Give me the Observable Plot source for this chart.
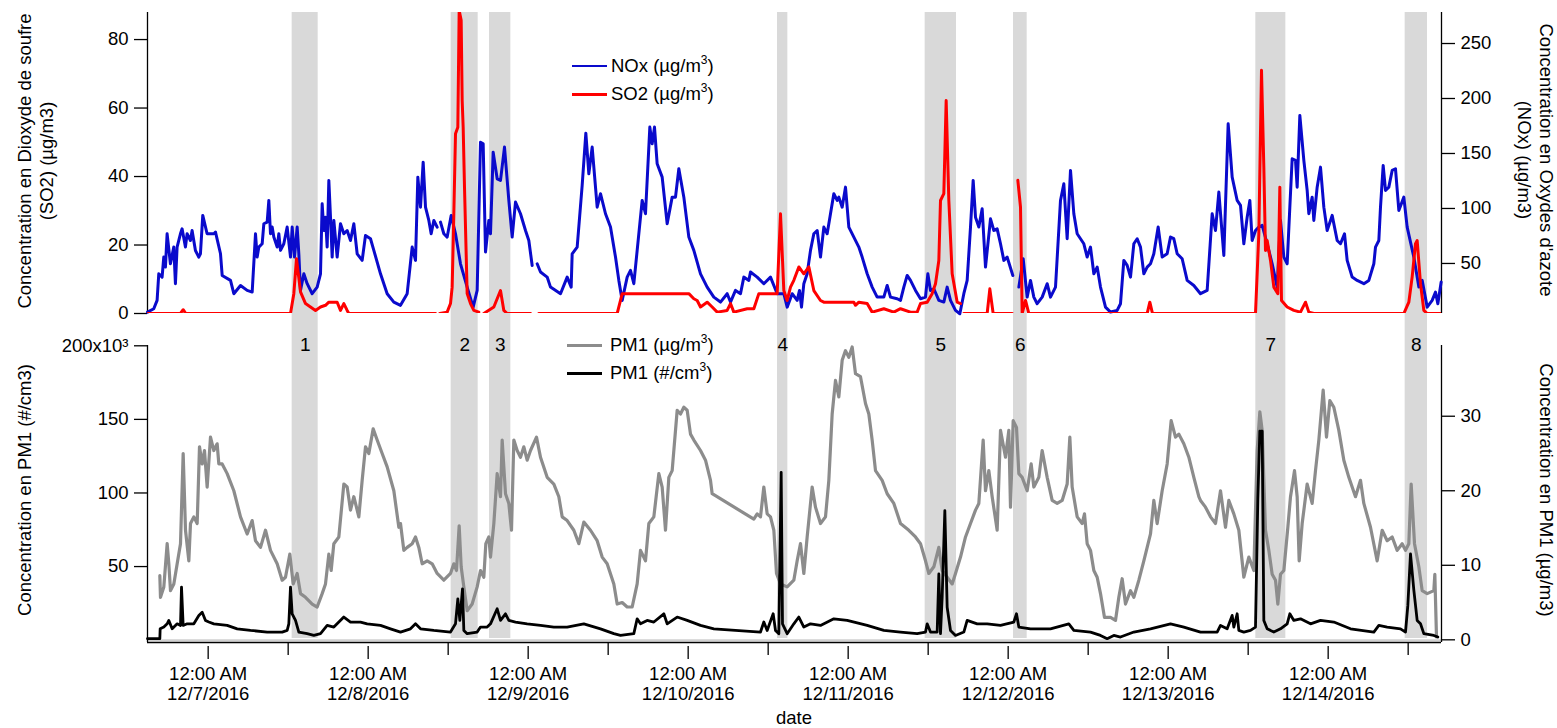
<!DOCTYPE html>
<html><head><meta charset="utf-8">
<script src="https://cdn.jsdelivr.net/npm/d3@7"></script>
<script src="https://cdn.jsdelivr.net/npm/@observablehq/plot@0.6"></script>
<style>
body{margin:0;background:#fff;}
#wrap{position:relative;width:1557px;height:728px;font-family:"Liberation Sans",Arial,sans-serif;color:#000;overflow:hidden;}
#wrap svg{display:block;}
.t{position:absolute;font-size:18.5px;white-space:nowrap;line-height:22px;}
.t sup{font-size:12px;vertical-align:0;position:relative;top:-8px;}
.sw{position:absolute;width:35px;height:2.6px;}
.rot{position:absolute;font-size:18.5px;line-height:22px;white-space:nowrap;text-align:center;}
</style></head>
<body>
<div id="wrap">
  <div id="topChart"></div>
  <div id="botChart"></div>
  <div class="rot" style="left:36px;top:161px;transform:translate(-50%,-50%) rotate(-90deg)">Concentration en Dioxyde de soufre<br>(SO2) (µg/m3)</div>
  <div class="rot" style="left:25px;top:490px;transform:translate(-50%,-50%) rotate(-90deg)">Concentration en PM1 (#/cm3)</div>
  <div class="rot" style="left:1535px;top:160px;transform:translate(-50%,-50%) rotate(90deg)">Concentration en Oxydes d'azote<br>(NOx) (µg/m3)</div>
  <div class="rot" style="left:1546px;top:490px;transform:translate(-50%,-50%) rotate(90deg)">Concentration en PM1 (µg/m3)</div>
  <div class="rot" style="left:794px;top:718px;line-height:18px;transform:translate(-50%,-50%)">date</div>
  <div class="sw" style="left:572px;top:64.5px;background:#0a0acc"></div>
  <div class="t" style="left:611px;top:55px">NOx (µg/m<sup>3</sup>)</div>
  <div class="sw" style="left:572px;top:93px;background:#ff0000"></div>
  <div class="t" style="left:611px;top:83px">SO2 (µg/m<sup>3</sup>)</div>
  <div class="sw" style="left:567px;top:344px;background:#8c8c8c"></div>
  <div class="t" style="left:610px;top:334px">PM1 (µg/m<sup>3</sup>)</div>
  <div class="sw" style="left:567px;top:372px;background:#000"></div>
  <div class="t" style="left:610px;top:362px">PM1 (#/cm<sup>3</sup>)</div>
</div>
<script>
// time in hours after 12/7/2016 00:00
const dayLabels = ["12/7/2016","12/8/2016","12/9/2016","12/10/2016","12/11/2016","12/12/2016","12/13/2016","12/14/2016"];
const bandStart = [12.6, 36.45, 42.2, 85.4, 107.55, 120.8, 157.15, 179.55];
const bandEnd   = [16.5, 40.5, 45.4, 86.95, 112.25, 122.85, 161.65, 182.9];
const bandLabel = ["1","2","3","4","5","6","7","8"];
const so2Ticks = [0, 20, 40, 60, 80];
const noxTicks = [50, 100, 150, 200, 250];
const pmNumTicks = [50, 100, 150, 200];
const pmMassTicks = [0, 10, 20, 30];

// NOx (µg/m3) [hour, value]
const nox = [[-9.1,5.8],[-8.16,8.8],[-7.66,16.4],[-7.41,40.6],[-6.91,37.6],[-6.66,55.8],[-6.41,46.7],[-6.16,77],[-5.66,49.7],[-5.16,64.9],[-4.91,31.6],[-4.66,64.9],[-4.16,77],[-3.91,81.5],[-3.41,64.9],[-3.16,77],[-2.66,70.9],[-2.41,80],[-1.91,61.8],[-1.41,55.8],[-1.16,58.8],[-0.81,93.7],[-0.16,77],[0.85,77],[1.1,78.5],[1.85,58.8],[2.1,39.1],[3.35,34.6],[3.85,22.5],[4.85,30],[5.85,25.5],[6.6,24],[7.1,77],[7.35,55.8],[7.6,64.9],[8.1,67.9],[8.35,86.1],[8.85,87.6],[9.1,107.3],[9.35,77],[9.6,83.1],[9.85,74],[10.35,64.9],[10.6,77],[10.85,61.9],[11.35,67.9],[11.85,83.1],[12.35,55.8],[12.6,83.1],[12.95,55.8],[13.35,83.1],[13.6,58.8],[13.85,25.5],[14.35,40.6],[14.85,31.6],[15.6,22.5],[16.35,28.5],[16.85,40.6],[17.1,104.3],[17.35,80],[17.6,92.1],[17.85,64.9],[18.1,125.5],[18.35,92.1],[18.6,55.8],[18.85,89.1],[19.35,55.8],[19.85,86.1],[20.35,77],[20.85,80],[21.35,70.9],[21.85,86.1],[22.35,58.8],[23.1,52.8],[23.6,75.5],[24.35,72.5],[24.85,61.9],[25.85,40.6],[26.85,22.5],[27.85,14.9],[28.85,11.9],[29.85,22.5],[30.6,64.9],[31.1,52.8],[31.45,128.5],[31.85,101.2],[32.25,142.1],[32.6,101.2],[33.1,89.1],[33.45,77],[33.85,89.1],[34.35,83.1],[34.6,null],[34.85,87.6],[35.35,77],[35.85,74],[36.45,93.7],[37.1,77],[37.85,49.7],[38.85,28.5],[39.75,10.3],[40.35,25.5],[40.85,160.3],[41.25,158.8],[41.6,60.4],[42.1,89.1],[42.35,77],[42.75,151.2],[43.35,127],[43.85,125.5],[44.45,155.8],[45.1,107.3],[45.6,74],[46.1,105.8],[46.85,95.2],[47.6,80],[48.1,70.9],[48.6,48.2],[49,null],[49.35,49.7],[49.85,42.2],[50.85,37.6],[51.35,28.5],[52.85,22.5],[53.85,37.6],[54.45,28.5],[54.6,58.8],[55.35,64.9],[56.1,120.9],[56.65,168.5],[57.1,131.5],[57.6,155.8],[58.35,101.2],[58.85,113.4],[59.6,95.2],[60.35,83.1],[61.1,55.8],[61.6,34.6],[62.1,16.4],[62.85,37.6],[63.35,43.7],[63.85,31.6],[64.35,61.9],[65.1,107.3],[65.6,95.2],[66.25,174],[66.6,158.8],[66.95,174],[67.35,140.6],[68.1,128.5],[68.85,86.1],[69.6,110.3],[70.1,110.3],[70.6,136.1],[71.35,110.3],[72.1,74],[72.85,61.9],[73.85,40.6],[74.85,28.5],[75.85,19.4],[76.85,14.9],[77.85,22.5],[78.35,14.9],[79.1,25.5],[79.85,22.5],[80.35,37.6],[81.1,34.6],[81.35,42.2],[82.35,37.6],[83.35,31.6],[84.35,37.6],[85.35,22.5],[86.35,22.5],[86.85,10.3],[87.6,22.5],[88.35,16.4],[88.7,25.5],[89.0,10.3],[89.35,31.6],[89.85,40.6],[90.35,61.9],[90.85,77],[91.35,80],[91.85,55.8],[92.35,83.1],[92.85,77],[93.35,95.2],[93.85,113.4],[94.35,107.3],[94.6,110.3],[95.1,101.2],[95.6,119.4],[96.1,83.1],[96.85,74],[97.6,64.9],[98.1,55.8],[98.85,40.6],[99.6,28.5],[100.35,19.4],[101.35,19.4],[101.85,30],[102.35,19.4],[103.35,17.9],[103.85,16.4],[104.35,28.5],[104.85,39.1],[105.35,34.6],[106.1,25.5],[106.85,17.9],[107.6,19.4],[107.95,40.6],[108.35,25.5],[108.85,27],[109.6,16.4],[110.35,14.9],[110.85,28.5],[111.35,16.4],[112.1,7.3],[112.75,4.3],[113.35,22.5],[113.85,34.6],[114.35,83.1],[114.75,125.5],[115.1,92.1],[115.6,83.1],[116.1,99.7],[116.6,46.7],[117.35,90.6],[117.85,80],[118.35,81.5],[118.85,67.9],[119.35,52.8],[119.85,55.8],[120.7,39.1],[121.1,null],[121.6,28.5],[122.25,54.3],[122.85,19.4],[123.35,34.6],[123.85,19.4],[124.35,13.4],[125.1,19.4],[125.85,31.6],[126.35,19.4],[127.1,28.5],[127.85,107.3],[128.35,122.4],[128.85,72.5],[129.35,134.6],[129.85,95.2],[130.35,77],[131.35,67.9],[131.85,55.8],[132.35,64.9],[132.85,40.6],[133.35,46.7],[133.85,28.5],[134.6,10.3],[135.35,5.8],[136.35,7.3],[136.85,13.4],[137.35,52.8],[137.85,48.2],[138.35,37.6],[138.85,67.9],[139.35,72.5],[139.85,64.9],[140.35,40.6],[140.85,46.7],[141.35,49.7],[141.85,58.8],[142.5,83.1],[143.1,55.8],[143.85,58.8],[144.35,74],[144.85,72.5],[145.35,58.8],[146.1,54.3],[146.85,34.6],[147.85,30],[148.85,22.5],[149.85,25.5],[150.6,95.2],[151.1,80],[151.6,114.9],[152.35,57.3],[153,177],[153.6,128.5],[154.35,107.3],[154.85,102.8],[155.35,67.9],[155.85,92.1],[156.25,107.3],[156.6,70.9],[157.1,80],[157.6,83.1],[158.1,84.6],[158.85,67.9],[159.6,49.7],[160.35,28.5],[160.85,89.1],[161.35,55.8],[161.85,49.7],[162.25,101.2],[162.6,145.2],[163.1,143.7],[163.35,119.4],[163.75,184.6],[164.35,143.7],[164.85,116.4],[165.1,95.2],[165.6,110.3],[165.85,89.1],[166.35,119.4],[166.85,137.6],[167.35,101.2],[167.85,80],[168.6,93.7],[169.35,70.9],[169.85,67.9],[170.45,77],[170.85,52.8],[171.6,37.6],[172.35,34.6],[173.35,31.6],[174.1,34.6],[174.85,49.7],[175.1,64.9],[175.6,70.9],[175.85,101.2],[176.25,139.1],[176.6,116.4],[177.1,119.4],[177.6,134.6],[178.1,136.1],[178.6,98.2],[179.35,110.3],[179.85,83.1],[180.85,55.8],[181.6,28.5],[182.1,34.6],[182.85,10.3],[183.6,16.4],[184.1,23.9],[184.45,13.4],[184.95,33.1]];

// SO2 (µg/m3) [hour, value]
const so2 = [[-9.1,0],[-4.16,0],[-3.75,1.1],[-3.35,0],[12.35,0],[12.85,5.8],[13.25,16],[13.85,6.3],[14.6,2.9],[15.35,1.9],[16.1,0.9],[16.85,1.9],[17.6,2.4],[18.1,3.3],[19.35,3.3],[19.85,0.9],[20.35,2.9],[20.85,0.9],[21.1,0],[34.1,0],[34.4,null],[34.75,0],[35.85,0.4],[36.35,2.9],[36.6,7.7],[36.85,29.1],[37.1,52.5],[37.45,54.4],[37.65,88.5],[37.95,85.6],[38.1,62.2],[38.25,54.4],[38.45,36.9],[38.85,5.8],[39.35,2.9],[39.85,0.9],[40.6,0.4],[41,null],[41.35,0],[42.85,1.9],[43.85,6.7],[44.35,0.9],[44.85,0],[48.35,0],[49,null],[49.6,0],[61.35,0],[61.85,3.8],[62.1,5.8],[72.1,5.8],[72.85,4.3],[73.35,3.8],[73.85,1.9],[74.85,3.3],[75.6,1.9],[76.35,0.4],[77.85,0.9],[78.35,2.9],[78.85,0.4],[80.85,1.4],[81.85,1.4],[82.6,5.8],[85.35,5.8],[85.85,29.1],[86.35,6.7],[86.85,3.8],[87.35,7.7],[87.85,9.7],[88.6,13.6],[89.35,11.6],[90.1,13.6],[90.85,6.7],[91.85,3.8],[92.35,3.3],[96.85,3.3],[97.1,2.4],[97.6,3.3],[98.85,2.9],[99.6,0.4],[101.35,1.4],[102.85,0.4],[103.85,1.4],[105.35,0.4],[106.35,0.4],[106.85,2.9],[107.85,3.3],[108.6,5.8],[109.1,8.7],[109.6,15.5],[109.85,33],[110.35,35],[110.7,62.2],[111.1,33],[111.6,11.6],[112.35,3.3],[112.85,2.9],[113.1,null],[113.35,0],[116.85,0],[117.25,7.2],[117.75,0],[120.6,0],[121,null],[121.45,38.9],[121.85,31.1],[122.1,0],[122.6,3.8],[123.1,0],[140.85,0],[141.25,3.3],[141.65,0],[157.1,0],[157.6,23.3],[158,71],[158.35,42.7],[158.6,18.4],[158.85,21.3],[159.35,15.5],[159.85,7.7],[160.45,5.8],[160.75,36.9],[161,3.8],[161.85,1.9],[162.85,0.9],[163.85,0.4],[164.6,3.3],[165.1,0.4],[165.85,0],[179.35,0],[180.1,3.3],[180.6,10.7],[181.1,20.4],[181.35,21.3],[181.85,8.7],[182.35,0.9],[182.85,0],[184.85,0]];

// PM1 mass (µg/m3) [hour, value]
const pmMass = [[-7.25,8.6],[-7.15,5.7],[-6.65,7.1],[-6.15,12.9],[-5.9,10.2],[-5.65,6.6],[-5.15,7.5],[-4.65,10.2],[-4.15,12.9],[-3.75,25],[-3.4,14.7],[-2.9,10.6],[-2.65,15.6],[-2.15,16.5],[-1.65,15.6],[-1.3,25.9],[-0.9,23.6],[-0.55,25.4],[-0.15,20.5],[0.35,27.2],[0.85,25.4],[1.35,26.3],[1.6,23.6],[2.1,23.6],[2.85,22.3],[3.85,20],[4.85,16.5],[5.85,14.2],[6.6,16],[7.1,13.3],[7.85,12.4],[8.6,14.7],[9.35,12],[10.35,10.2],[11.1,8],[11.6,8.4],[12.25,11.5],[12.75,7.5],[13.35,8.9],[13.85,6.2],[14.6,5.7],[15.6,4.8],[16.35,4.4],[17.1,6.2],[17.6,7.5],[18.1,11.5],[18.45,9.3],[18.85,12.9],[19.6,13.8],[20.35,20.9],[20.85,20.5],[21.35,17.4],[21.85,19.2],[22.6,16.5],[23.1,21.4],[23.6,25.9],[24.1,25],[24.75,28.3],[25.35,26.8],[26.1,25],[26.85,23.2],[27.85,20],[28.6,15.1],[28.85,15.6],[29.35,12],[29.85,12.4],[30.6,12.9],[31.1,13.8],[31.6,12.4],[32.1,10.2],[32.85,10.6],[33.6,10.2],[34.35,8.9],[35.35,8],[36.35,8.9],[36.85,10.2],[37.25,9.3],[37.65,15.3],[37.95,9.8],[38.35,7.1],[38.85,3.9],[39.6,4.8],[40.35,7.1],[40.85,9.3],[41.35,8.4],[41.65,12.9],[42.1,13.8],[42.35,11.1],[42.85,15.6],[43.35,22.3],[43.85,19.2],[44.1,26.8],[44.6,19.6],[45.1,18.3],[45.5,14.7],[45.85,26.8],[46.35,25.4],[46.85,24.5],[47.35,25.9],[47.85,24.1],[48.35,25.4],[49.25,27.2],[49.85,24.5],[50.85,21.8],[51.85,20.9],[52.6,19.2],[53.1,16.5],[53.85,16],[54.85,14.7],[55.6,12.9],[56.35,15.8],[57.35,14.7],[58.35,13.3],[59.1,11.1],[59.85,10.2],[60.85,7.5],[61.35,4.8],[62.1,5],[62.85,4.4],[63.6,4.4],[64.35,7.5],[64.85,12],[65.6,10.6],[66.1,15.6],[66.85,16.5],[67.6,22.3],[68.1,20.5],[68.6,14.7],[69.1,21.8],[69.6,22.7],[70.35,30.8],[70.85,30.3],[71.35,31.2],[71.85,30.8],[72.35,27.6],[72.85,26.8],[73.85,25.4],[74.6,24.1],[75.35,21.4],[75.6,19.6],[81.85,16.2],[82.35,16.9],[82.85,16.5],[83.35,20.5],[83.85,16.9],[84.35,16.5],[84.85,14.7],[85.25,8.9],[85.85,7.5],[86.85,7.1],[87.85,8],[88.35,10.6],[88.85,12.9],[89.35,8.9],[89.85,13.8],[90.6,20.5],[91.1,17.8],[91.85,15.6],[92.6,16.5],[93.1,21.4],[93.6,30.3],[94.1,34.8],[94.6,32.6],[95.1,37.5],[95.6,38.8],[96.1,37.9],[96.6,39.3],[97.1,35.7],[97.85,35.3],[98.6,31.7],[99.1,30.3],[99.6,26.8],[100.1,22.7],[101.1,21.4],[101.85,19.6],[102.85,18.3],[103.85,15.6],[105.1,14.7],[106.1,13.8],[106.85,12.9],[107.6,10.6],[108.1,8.9],[108.85,9.8],[109.6,12.4],[110.1,9.3],[110.85,8.4],[111.6,7.5],[112.1,8.9],[112.85,11.1],[113.6,13.8],[114.35,15.6],[115.1,17.4],[115.6,18.3],[116.25,26.8],[116.6,20],[117.1,22.7],[117.6,19.2],[118.35,14.7],[118.85,28.1],[119.6,24.5],[120.1,28.1],[120.35,17.8],[120.75,29.4],[121.25,28.5],[121.6,22.3],[122.1,21.8],[122.85,20],[123.45,23.6],[123.85,20.5],[124.6,21.8],[125.1,25.4],[125.85,21.8],[126.6,18.7],[127.35,18.3],[128.1,18.7],[128.85,20.9],[129.25,27.2],[129.6,20.5],[130.35,16.5],[131.1,15.6],[131.45,16.9],[131.85,12.9],[132.35,12],[132.85,9.3],[133.35,8.4],[133.85,6.2],[134.45,3],[135.35,3],[136.1,2.6],[136.6,5.7],[137.1,8.2],[137.6,4.8],[138.35,6.6],[138.85,5.7],[139.6,8],[140.35,10.6],[141.35,14.2],[141.85,18.7],[142.35,15.6],[143.1,20],[143.85,23.6],[144.45,29.4],[145.1,27.2],[145.6,27.6],[146.35,26.3],[147.1,24.5],[147.85,21.8],[148.6,19.2],[148.85,18.7],[149.6,17.8],[150.35,16.5],[151.1,15.6],[151.85,20],[152.6,15.1],[153.1,18.7],[153.85,16.9],[154.6,14.7],[155.35,8.4],[156.1,11.1],[156.85,9.3],[157.35,25.4],[157.75,30.6],[158.1,28.1],[158.6,14.7],[159.1,12],[159.6,8.8],[160.1,8],[160.45,4.8],[160.85,8.8],[161.35,9.3],[161.95,15.1],[162.35,19.2],[162.95,22.7],[163.35,19.2],[163.65,10.6],[164.1,15.6],[164.85,20.9],[165.6,18.3],[166.1,22.7],[166.6,26.8],[167.25,33.5],[167.75,27.2],[168.25,32.1],[168.85,31.2],[169.6,28.1],[170.35,24.1],[171.1,21.8],[172.1,19.2],[172.85,21.4],[173.35,18.3],[174.35,15.1],[175.35,10.6],[176.1,14.7],[176.85,13.3],[177.6,13.8],[178.35,12],[179.1,12.9],[179.6,12],[180.1,12.9],[180.45,20.9],[180.95,12.9],[181.6,9.8],[182.1,6.6],[182.85,6.2],[183.85,6.6],[184,8.8],[184.25,0.4]];

// PM1 number (x10^3 #/cm3) [hour, value]
const pmNum = [[-9.1,1],[-7.25,1],[-7.2,7.7],[-6.65,8.9],[-6.15,11.1],[-5.9,13.4],[-5.4,7.7],[-4.65,11.1],[-4.15,10],[-4.0,36],[-3.75,10],[-3.15,11.1],[-2.15,11.1],[-1.4,16.8],[-0.9,19],[-0.4,13.4],[0.1,12.3],[0.85,11.1],[2.85,10],[4.35,7.7],[6.35,6.6],[8.85,5.5],[11.1,5.5],[11.85,6.6],[12.1,11.1],[12.35,36],[12.6,17.9],[13.1,13.4],[13.6,5.5],[14.85,4.4],[15.85,3.2],[16.85,4.4],[17.85,10],[18.85,8.9],[20.35,15.7],[21.35,12.3],[22.85,12.3],[23.85,11.1],[25.85,10],[27.35,7.7],[28.85,5.5],[30.35,7.7],[31.1,11.1],[31.85,7.7],[33.85,6.6],[36.35,5.5],[37.1,11.1],[37.45,28.1],[37.75,13.4],[38.15,34.9],[38.35,6.6],[38.85,4.4],[40.35,5.5],[40.85,8.9],[41.85,8.9],[42.35,11.1],[43.35,21.3],[43.85,13.4],[44.6,17.9],[45.1,13.4],[46.1,12.3],[47.85,11.1],[49.85,10],[51.85,8.9],[53.85,8.9],[56.35,11.1],[58.85,7.7],[60.85,4.4],[61.85,3.2],[63.85,4.4],[64.35,14.5],[64.85,11.1],[65.85,13.4],[66.85,12.3],[68.35,17.9],[68.85,11.1],[70.35,15.7],[71.85,13.4],[73.85,10],[75.85,7.7],[82.85,5.5],[83.35,12.3],[83.85,6.6],[84.75,17.9],[85.1,6.6],[85.6,4.4],[85.95,114],[86.15,11.1],[86.85,4.4],[87.85,11.1],[88.6,15.7],[89.35,8.9],[90.35,11.1],[91.85,10],[93.85,14.5],[95.85,13.4],[98.85,10],[101.35,6.6],[103.85,5.5],[106.35,4.4],[107.6,5.5],[107.85,11.1],[108.35,5.5],[109.35,5.5],[109.6,45],[109.85,4.4],[110.1,29.2],[110.5,88],[110.85,22.4],[111.35,6.6],[112.1,3.2],[113.35,5.5],[113.85,13.4],[115.35,11.1],[116.85,11.1],[118.85,10],[120.85,12.3],[121.25,17.9],[121.6,8.9],[123.35,7.7],[126.35,7.7],[129.1,11.1],[129.85,6.6],[132.35,5.5],[133.85,3.2],[134.85,1],[135.85,3.2],[136.85,2.1],[138.85,5.5],[141.35,7.7],[144.35,11.1],[146.35,8.9],[148.85,5.5],[151.35,5.5],[151.85,10],[152.85,7.7],[153.6,16.8],[153.85,8.9],[154.35,17.9],[154.6,6.6],[155.35,5.5],[156.35,6.6],[157.1,8.9],[157.45,96],[157.75,142],[158.1,142],[158.35,13.4],[158.85,7.7],[159.85,5.5],[160.85,7.7],[161.85,11.1],[162.25,17.9],[162.85,13.4],[163.85,14.5],[165.35,11.1],[166.85,13.4],[168.85,12.3],[171.35,7.7],[174.85,5.5],[175.6,10],[176.85,8.9],[178.85,7.7],[179.6,5.5],[179.95,23.6],[180.35,58.6],[180.85,34],[181.35,13.4],[181.85,11.1],[182.35,4.4],[183.85,3.2],[184.45,2.1]];

const BASE = Date.UTC(2016, 11, 7);
const toDate = h => new Date(BASE + h * 3600000);
const rows = arr => arr.map(([h, v]) => ({t: toDate(h), v}));
const xDomain = [toDate(-9.1), toDate(185)];
const dayDates = dayLabels.map((_, i) => toDate(24 * i));
const noonDates = dayLabels.map((_, i) => toDate(24 * i + 12));
const labelOf = new Map(dayDates.map((d, i) => [+d, "12:00 AM\n" + dayLabels[i]]));
const bands = bandStart.map((s, i) => ({start: toDate(s), end: toDate(bandEnd[i]), mid: toDate((s + bandEnd[i]) / 2), label: bandLabel[i]}));

// top panel scales
const so2Domain = [0, 87.9];
const noxDomain = [4.5, 278.2];
const noxToSo2 = d3.scaleLinear().domain(noxDomain).range(so2Domain);
// bottom panel scales
const numDomain = [-1.6, 200.2];
const massDomain = [-0.36, 39.49];
const massToNum = d3.scaleLinear().domain(massDomain).range(numDomain);

const font = "'Liberation Sans', Arial, sans-serif";
const style = {fontFamily: font, fontSize: "18.5px", color: "black", background: "transparent", overflow: "visible"};
const axisOpts = {tickSize: 13, tickPadding: 6, label: null, strokeWidth: 1.3};

const topPlot = Plot.plot({
  width: 1557, height: 330,
  marginLeft: 147, marginRight: 116, marginTop: 12, marginBottom: 17,
  style,
  x: {type: "utc", domain: xDomain, axis: null},
  y: {domain: so2Domain},
  marks: [
    Plot.rect(bands, {x1: "start", x2: "end", fill: "#d9d9d9", insetBottom: -17}),
    Plot.ruleX([xDomain[0]], {strokeWidth: 1.3}),
    Plot.ruleX([xDomain[1]], {strokeWidth: 1.3}),
    Plot.axisY(so2Ticks, {anchor: "left", ...axisOpts}),
    Plot.axisY(noxTicks.map(noxToSo2), {anchor: "right", ...axisOpts, tickFormat: d => Math.round(noxToSo2.invert(d))}),
    Plot.line(rows(nox), {x: "t", y: d => d.v == null ? NaN : noxToSo2(d.v), stroke: "#0a0acc", strokeWidth: 3}),
    Plot.line(rows(so2), {x: "t", y: "v", stroke: "#ff0000", strokeWidth: 3, clip: true})
  ]
});

const botPlot = Plot.plot({
  width: 1557, height: 398,
  marginLeft: 147, marginRight: 116, marginTop: 15, marginBottom: 86,
  style,
  x: {type: "utc", domain: xDomain},
  y: {domain: numDomain},
  marks: [
    Plot.rect(bands, {x1: "start", x2: "end", fill: "#d9d9d9", insetTop: -15, insetBottom: 4}),
    Plot.text(bands, {x: "mid", text: "label", frameAnchor: "top", dy: -8, fontSize: 19}),
    Plot.ruleY([0], {stroke: "#d0d0d0", strokeWidth: 2}),
    Plot.ruleX([xDomain[0]], {strokeWidth: 1.3}),
    Plot.ruleX([xDomain[1]], {strokeWidth: 1.3}),
    Plot.ruleY([numDomain[0]], {strokeWidth: 1.3}),
    Plot.axisY(pmNumTicks, {anchor: "left", ...axisOpts, tickFormat: d => d === 200 ? "200x10³" : String(d)}),
    Plot.axisY(pmMassTicks.map(massToNum), {anchor: "right", ...axisOpts, tickFormat: d => Math.round(massToNum.invert(d))}),
    Plot.axisX(dayDates, {anchor: "bottom", tickSize: 13, tickPadding: 6, dy: 4, label: null, strokeWidth: 1.3, lineHeight: 1.1, tickFormat: d => labelOf.get(+d)}),
    Plot.axisX(noonDates, {anchor: "bottom", tickSize: 13, label: null, strokeWidth: 1.3, tickFormat: () => ""}),
    Plot.line(rows(pmMass), {x: "t", y: d => massToNum(d.v), stroke: "#8c8c8c", strokeWidth: 3.2}),
    Plot.line(rows(pmNum), {x: "t", y: "v", stroke: "#000", strokeWidth: 2.8})
  ]
});

document.getElementById("topChart").append(topPlot);
document.getElementById("botChart").append(botPlot);
</script>
</body></html>
